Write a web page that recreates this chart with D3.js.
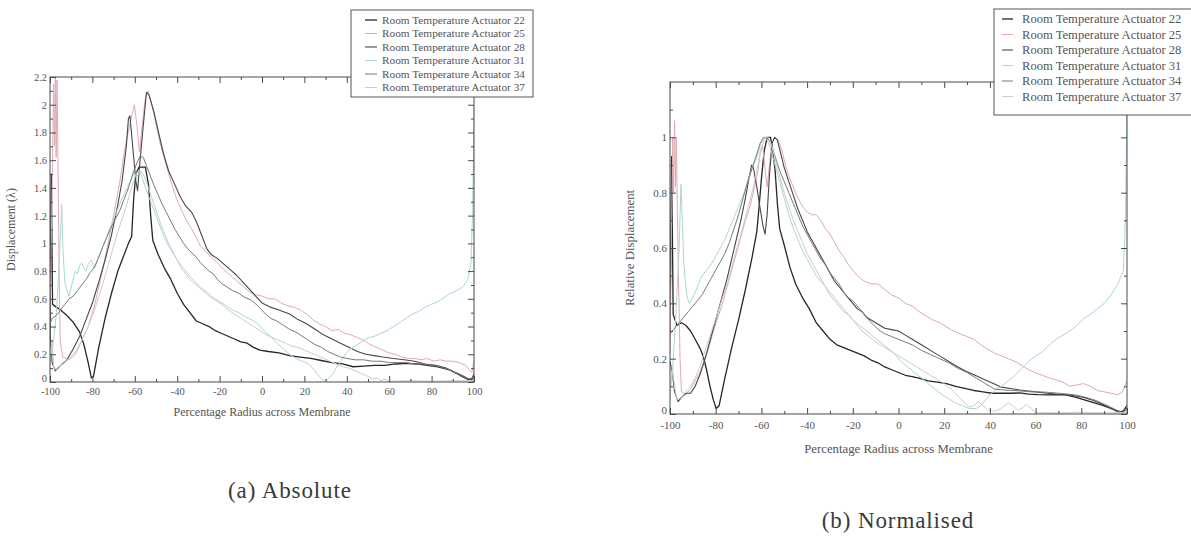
<!DOCTYPE html>
<html>
<head>
<meta charset="utf-8">
<script src="https://cdn.jsdelivr.net/npm/d3@7"></script>
<style>
  html, body { margin: 0; padding: 0; background: #fff; }
  svg { display: block; }
  text { font-family: "Liberation Serif", "Times New Roman", serif; }
</style>
</head>
<body>
<svg id="fig" width="1191" height="538"></svg>
<script>
// ---- shared labels and ticks ----
const seriesNames = [
  "Room Temperature Actuator 22",
  "Room Temperature Actuator 25",
  "Room Temperature Actuator 28",
  "Room Temperature Actuator 31",
  "Room Temperature Actuator 34",
  "Room Temperature Actuator 37"
];
const xMajorTicks = [-100, -80, -60, -40, -20, 0, 20, 40, 60, 80, 100];
const xMinorTicks = [-90, -70, -50, -30, -10, 10, 30, 50, 70, 90];
const absMajorTicks = [0, 0.2, 0.4, 0.6, 0.8, 1, 1.2, 1.4, 1.6, 1.8, 2, 2.2];
const absMinorTicks = [0.1, 0.3, 0.5, 0.7, 0.9, 1.1, 1.3, 1.5, 1.7, 1.9, 2.1];
const relMajorTicks = [0, 0.2, 0.4, 0.6, 0.8, 1];
const relMinorTicks = [0.1, 0.3, 0.5, 0.7, 0.9, 1.1];

// ---- absolute displacement, [percentage radius, displacement] ----
const absAct22 = [[-100,0.30],[-99.4,1.50],[-98.8,0.56],[-97,0.54],[-95,0.52],[-92,0.48],[-89,0.43],[-86,0.36],[-84,0.27],[-82,0.14],[-80.5,0.03],[-79.5,0.04],[-77,0.25],[-74,0.46],[-71,0.64],[-68,0.80],[-65,0.92],[-63,1.00],[-61.5,1.05],[-60.5,1.33],[-59.5,1.50],[-58,1.55],[-55,1.55],[-53.5,1.42],[-52.5,1.20],[-51.5,1.02],[-49,0.92],[-46,0.82],[-43,0.74],[-40,0.64],[-37,0.56],[-34,0.50],[-31,0.44],[-28,0.42],[-25,0.40],[-22,0.37],[-19,0.35],[-16,0.33],[-13,0.31],[-10,0.29],[-7,0.28],[-4,0.25],[-1,0.23],[3,0.22],[8,0.21],[13,0.19],[18,0.18],[23,0.17],[28,0.155],[33,0.14],[38,0.13],[43,0.11],[48,0.115],[53,0.12],[58,0.12],[63,0.13],[68,0.135],[73,0.13],[78,0.12],[83,0.11],[88,0.09],[92,0.06],[95,0.035],[97,0.02],[99,0.02],[100,0.05]];
const absAct25 = [[-100,0.50],[-98.8,1.55],[-98.3,2.15],[-97.9,1.70],[-97.5,2.20],[-97.1,1.62],[-96.7,2.18],[-96.3,1.70],[-95.8,0.90],[-95.2,0.30],[-94,0.18],[-91,0.16],[-88,0.20],[-85,0.30],[-82,0.40],[-79,0.55],[-76,0.75],[-73,0.97],[-70,1.20],[-67,1.45],[-64.5,1.70],[-62,1.88],[-60.2,2.00],[-59,1.85],[-57.8,1.66],[-56.5,1.85],[-55,2.05],[-53.8,2.10],[-52,2.00],[-50,1.86],[-48,1.72],[-45.5,1.58],[-43,1.45],[-40.5,1.33],[-38,1.24],[-35.5,1.16],[-33,1.10],[-31,1.04],[-29,0.98],[-27,0.95],[-24,0.90],[-21,0.86],[-18,0.81],[-15,0.77],[-12,0.73],[-9,0.69],[-6,0.65],[-3,0.63],[0,0.62],[3,0.60],[6,0.60],[9,0.57],[12,0.55],[15,0.54],[18,0.52],[21,0.49],[24,0.45],[27,0.42],[30,0.40],[33,0.37],[36,0.38],[39,0.35],[42,0.34],[45,0.32],[48,0.30],[51,0.27],[54,0.25],[57,0.23],[60,0.21],[63,0.20],[66,0.18],[69,0.17],[72,0.17],[75,0.16],[78,0.17],[81,0.15],[84,0.16],[87,0.15],[90,0.15],[93,0.14],[96,0.12],[98,0.09],[99,0.07],[100,0.15]];
const absAct28 = [[-100,0.35],[-99,0.14],[-97.5,0.08],[-95,0.12],[-92,0.16],[-89,0.24],[-86,0.33],[-83,0.45],[-80,0.57],[-77,0.72],[-74,0.88],[-71,1.06],[-68,1.28],[-66,1.45],[-64,1.70],[-63,1.90],[-62.3,1.92],[-61,1.70],[-59.5,1.45],[-58.7,1.38],[-57.5,1.60],[-56,1.85],[-54.5,2.09],[-53.3,2.07],[-51,1.95],[-48.5,1.78],[-46.5,1.65],[-44,1.52],[-41,1.42],[-38.7,1.34],[-36,1.27],[-33,1.22],[-30.8,1.15],[-28,1.04],[-26,0.96],[-24,0.92],[-21,0.89],[-18,0.85],[-15,0.81],[-12,0.77],[-9,0.72],[-6,0.67],[-3,0.62],[0,0.57],[4,0.54],[8,0.52],[13,0.49],[17,0.45],[21,0.42],[25,0.38],[29,0.34],[33,0.31],[37,0.28],[41,0.25],[45,0.22],[49,0.20],[53,0.19],[57,0.18],[62,0.17],[67,0.16],[72,0.15],[77,0.13],[82,0.12],[87,0.10],[91,0.07],[94,0.05],[97,0.025],[99,0.02],[100,0.06]];
const absAct31 = [[-100,0.25],[-99,0.20],[-97,0.50],[-95.5,0.90],[-94.5,1.28],[-94,1.00],[-93.5,0.85],[-93,0.72],[-92,0.66],[-91,0.62],[-90,0.68],[-89,0.75],[-88,0.80],[-87,0.78],[-86,0.84],[-85,0.86],[-84,0.82],[-83,0.80],[-82,0.85],[-80.5,0.88],[-79,0.82],[-77,0.90],[-74,1.02],[-71,1.14],[-68,1.25],[-65,1.36],[-62,1.45],[-60.5,1.50],[-59,1.48],[-57.5,1.52],[-56,1.45],[-54,1.36],[-52,1.28],[-50,1.20],[-48,1.12],[-46,1.04],[-44,0.98],[-42,0.93],[-40,0.88],[-38,0.84],[-36,0.80],[-34,0.76],[-32,0.73],[-30,0.70],[-28,0.67],[-26,0.65],[-24,0.62],[-22,0.60],[-20,0.58],[-17,0.55],[-14,0.52],[-11,0.50],[-8,0.47],[-5,0.45],[-2,0.42],[1,0.37],[4,0.33],[7,0.28],[10,0.24],[13,0.20],[16,0.17],[19,0.15],[22,0.13],[25,0.08],[27,0.04],[29,0.01],[31,0.02],[33,0.05],[35,0.10],[38,0.17],[41,0.23],[44,0.26],[47,0.29],[50,0.32],[53,0.33],[56,0.35],[59,0.37],[62,0.40],[65,0.43],[68,0.46],[71,0.49],[74,0.51],[77,0.54],[80,0.56],[83,0.58],[86,0.61],[89,0.64],[92,0.66],[95,0.69],[97,0.74],[98.5,0.85],[99.3,1.20],[99.8,1.70],[100,2.00]];
const absAct34 = [[-100,0.42],[-99,0.46],[-97,0.48],[-95,0.52],[-93,0.56],[-91,0.60],[-89,0.62],[-87,0.66],[-85,0.70],[-83,0.74],[-81,0.79],[-79,0.83],[-77,0.90],[-75,0.98],[-73,1.05],[-71,1.12],[-69,1.18],[-67,1.24],[-65,1.32],[-63,1.40],[-61,1.50],[-59,1.58],[-57.5,1.63],[-56,1.62],[-54.5,1.56],[-53,1.50],[-51,1.42],[-49,1.35],[-47,1.28],[-45,1.22],[-43,1.16],[-41,1.10],[-39,1.05],[-37,1.00],[-35,0.96],[-33,0.93],[-31,0.90],[-29,0.86],[-27,0.83],[-25,0.80],[-23,0.78],[-21,0.74],[-19,0.71],[-17,0.69],[-14,0.66],[-11,0.64],[-8,0.61],[-5,0.59],[-2,0.55],[1,0.50],[4,0.46],[7,0.44],[10,0.41],[13,0.38],[16,0.36],[19,0.33],[22,0.30],[25,0.27],[28,0.25],[31,0.22],[34,0.20],[37,0.18],[40,0.17],[44,0.16],[48,0.16],[52,0.15],[56,0.15],[60,0.14],[64,0.14],[68,0.14],[72,0.13],[76,0.13],[80,0.12],[84,0.11],[88,0.09],[92,0.06],[95,0.04],[98,0.02],[100,0.04]];
const absAct37 = [[-100,0.12],[-99,0.30],[-98.2,0.10],[-96.5,0.09],[-94,0.14],[-91,0.17],[-88,0.22],[-85,0.30],[-82,0.40],[-79,0.52],[-76,0.66],[-73,0.82],[-70,0.98],[-67,1.13],[-64,1.27],[-61.5,1.40],[-59.5,1.50],[-58,1.53],[-56,1.50],[-54,1.42],[-52,1.33],[-50,1.24],[-48,1.15],[-46,1.07],[-44,1.00],[-42,0.94],[-40,0.88],[-38,0.82],[-36,0.78],[-34,0.74],[-31,0.70],[-28,0.66],[-25,0.62],[-22,0.59],[-19,0.56],[-16,0.52],[-13,0.49],[-10,0.46],[-7,0.43],[-4,0.40],[-1,0.37],[2,0.34],[5,0.32],[8,0.30],[11,0.28],[14,0.26],[17,0.25],[20,0.23],[23,0.21],[26,0.19],[29,0.17],[32,0.15],[35,0.13],[38,0.11],[41,0.10],[44,0.08],[47,0.06],[50,0.04],[52,0.02],[54,0.03],[56,0.01],[58,0.02],[60,0.005],[70,0.01],[80,0.005],[90,0.01],[100,0.01]];

// ---- normalised displacement, [percentage radius, relative displacement] ----
const relAct22 = [[-100,0.30],[-99.3,0.93],[-98.6,0.36],[-97,0.32],[-95,0.33],[-93,0.32],[-91,0.30],[-89,0.27],[-87,0.24],[-85.5,0.21],[-84,0.16],[-82.5,0.10],[-81,0.05],[-79.8,0.02],[-78.5,0.03],[-76,0.13],[-73,0.24],[-70,0.34],[-67,0.45],[-64,0.57],[-62,0.66],[-61,0.75],[-60,0.85],[-58.8,0.95],[-57.5,1.00],[-56,1.00],[-55,0.95],[-54,0.88],[-53,0.76],[-52,0.67],[-50,0.61],[-47.5,0.53],[-45,0.47],[-42,0.42],[-39,0.38],[-36,0.33],[-33,0.30],[-30,0.27],[-27,0.25],[-24,0.24],[-21,0.23],[-18,0.22],[-15,0.21],[-12,0.195],[-9,0.185],[-6,0.17],[-3,0.16],[0,0.15],[3,0.14],[6,0.135],[9,0.13],[13,0.12],[17,0.115],[21,0.11],[25,0.10],[29,0.093],[33,0.085],[37,0.08],[41,0.075],[45,0.075],[49,0.075],[53,0.076],[57,0.072],[61,0.07],[65,0.069],[69,0.07],[73,0.069],[77,0.062],[81,0.052],[85,0.042],[89,0.032],[93,0.02],[96,0.01],[98,0.008],[100,0.03]];
const relAct25 = [[-100,0.22],[-99.2,0.75],[-98.8,1.00],[-98.4,0.80],[-98,1.06],[-97.6,0.82],[-97.2,1.00],[-96.8,0.75],[-96.3,0.50],[-95.6,0.20],[-95,0.08],[-93,0.07],[-91,0.09],[-89,0.12],[-87,0.15],[-85,0.19],[-83,0.24],[-81,0.30],[-79,0.35],[-77,0.40],[-75,0.46],[-73,0.52],[-71,0.58],[-69,0.64],[-67,0.70],[-65,0.75],[-63,0.82],[-61.5,0.88],[-60.5,0.95],[-59.5,0.97],[-58.3,0.88],[-57.5,0.82],[-56.5,0.90],[-55.3,0.98],[-54,1.00],[-52.5,0.99],[-51,0.95],[-49.5,0.90],[-48,0.86],[-46,0.82],[-44,0.78],[-42,0.75],[-40,0.73],[-38,0.72],[-36,0.72],[-34,0.70],[-32,0.67],[-30,0.65],[-28,0.62],[-26,0.59],[-24,0.57],[-22,0.54],[-20,0.52],[-18,0.50],[-15,0.48],[-12,0.47],[-9,0.47],[-6,0.45],[-3,0.43],[0,0.42],[3,0.40],[6,0.39],[9,0.37],[12,0.355],[15,0.34],[18,0.33],[21,0.315],[24,0.30],[27,0.29],[30,0.28],[33,0.27],[36,0.25],[39,0.235],[42,0.22],[45,0.21],[48,0.20],[51,0.19],[54,0.175],[57,0.16],[60,0.148],[63,0.14],[66,0.13],[69,0.123],[72,0.115],[75,0.10],[78,0.105],[81,0.11],[84,0.10],[87,0.085],[90,0.08],[93,0.075],[96,0.07],[98,0.08],[100,0.12]];
const relAct28 = [[-100,0.19],[-99,0.15],[-98,0.08],[-96.5,0.045],[-95,0.06],[-93,0.075],[-91,0.075],[-89,0.10],[-87,0.14],[-85,0.19],[-83,0.25],[-81,0.31],[-79,0.37],[-77,0.43],[-75,0.49],[-73,0.56],[-71,0.63],[-69,0.70],[-67,0.78],[-65.5,0.85],[-64.3,0.90],[-63.5,0.89],[-62,0.82],[-60.5,0.74],[-59.3,0.68],[-58.4,0.65],[-57.5,0.72],[-56.5,0.86],[-55.3,0.98],[-54.2,1.00],[-53,0.99],[-51.5,0.94],[-50,0.89],[-48,0.84],[-46,0.79],[-44,0.74],[-42,0.70],[-40,0.66],[-38,0.63],[-36,0.60],[-34,0.57],[-32,0.54],[-30,0.51],[-28,0.48],[-26,0.46],[-24,0.44],[-22,0.42],[-20,0.40],[-18,0.38],[-16,0.37],[-14,0.35],[-12,0.34],[-10,0.33],[-8,0.32],[-6,0.31],[-3,0.305],[0,0.30],[3,0.285],[6,0.27],[10,0.25],[14,0.23],[18,0.21],[22,0.19],[26,0.17],[30,0.153],[34,0.138],[38,0.123],[42,0.108],[45,0.097],[49,0.092],[53,0.087],[57,0.083],[61,0.079],[65,0.075],[69,0.072],[73,0.07],[77,0.066],[81,0.06],[85,0.05],[89,0.036],[93,0.02],[96,0.008],[98,0.005],[100,0.02]];
const relAct31 = [[-100,0.10],[-99,0.14],[-97.5,0.35],[-96,0.60],[-95.2,0.83],[-94.6,0.70],[-94,0.55],[-93.3,0.48],[-92.5,0.42],[-91.5,0.40],[-90,0.42],[-88,0.46],[-86,0.50],[-84,0.52],[-82,0.54],[-80,0.57],[-78,0.60],[-76,0.63],[-74,0.67],[-72,0.71],[-70,0.75],[-68,0.79],[-66,0.84],[-64,0.89],[-62,0.93],[-60.5,0.97],[-59,1.00],[-57.5,0.99],[-56,0.96],[-54,0.90],[-52,0.84],[-50,0.78],[-48,0.72],[-46,0.67],[-44,0.63],[-42,0.59],[-40,0.56],[-38,0.53],[-36,0.50],[-34,0.48],[-32,0.46],[-30,0.43],[-28,0.41],[-26,0.39],[-24,0.37],[-22,0.36],[-20,0.34],[-17,0.32],[-14,0.30],[-11,0.28],[-8,0.26],[-5,0.24],[-2,0.22],[1,0.19],[4,0.17],[7,0.15],[10,0.13],[13,0.11],[16,0.09],[19,0.07],[22,0.055],[25,0.04],[28,0.03],[31,0.02],[34,0.02],[36,0.03],[39,0.06],[42,0.085],[45,0.10],[48,0.12],[51,0.14],[54,0.165],[57,0.19],[60,0.21],[63,0.225],[66,0.25],[69,0.27],[72,0.285],[75,0.30],[78,0.32],[81,0.345],[84,0.36],[87,0.38],[90,0.40],[93,0.43],[96,0.47],[98.4,0.52],[99.3,0.70],[99.8,1.00],[100,1.30]];
const relAct34 = [[-100,0.29],[-98,0.31],[-96,0.33],[-94,0.35],[-92,0.37],[-90,0.39],[-88,0.41],[-86,0.43],[-84,0.46],[-82,0.49],[-80,0.52],[-78,0.55],[-76,0.58],[-74,0.62],[-72,0.67],[-70,0.72],[-68,0.78],[-66,0.84],[-64,0.89],[-62,0.94],[-60.5,0.98],[-59,1.00],[-57.5,1.00],[-56,0.98],[-54,0.93],[-52,0.88],[-50,0.84],[-48,0.80],[-46,0.76],[-44,0.72],[-42,0.68],[-40,0.65],[-38,0.62],[-36,0.59],[-34,0.56],[-32,0.54],[-30,0.51],[-28,0.49],[-26,0.47],[-24,0.44],[-22,0.42],[-20,0.41],[-18,0.39],[-16,0.37],[-14,0.35],[-12,0.33],[-10,0.315],[-8,0.30],[-6,0.29],[-3,0.28],[0,0.27],[3,0.26],[6,0.25],[10,0.23],[14,0.215],[18,0.20],[22,0.185],[26,0.165],[30,0.15],[34,0.13],[38,0.11],[42,0.09],[46,0.087],[50,0.085],[54,0.083],[58,0.08],[62,0.08],[66,0.078],[70,0.075],[74,0.072],[78,0.068],[82,0.06],[86,0.05],[90,0.036],[94,0.02],[97,0.008],[100,0.02]];
const relAct37 = [[-100,0.05],[-99,0.17],[-98,0.10],[-97,0.05],[-95,0.06],[-93,0.08],[-91,0.10],[-89,0.13],[-87,0.17],[-85,0.22],[-83,0.27],[-81,0.32],[-79,0.37],[-77,0.42],[-75,0.47],[-73,0.53],[-71,0.59],[-69,0.65],[-67,0.71],[-65,0.77],[-63,0.84],[-61.5,0.90],[-60,0.96],[-58.5,1.00],[-57,1.00],[-55.5,0.97],[-54,0.92],[-52,0.86],[-50,0.80],[-48,0.75],[-46,0.70],[-44,0.66],[-42,0.62],[-40,0.58],[-38,0.55],[-36,0.52],[-34,0.49],[-32,0.46],[-30,0.44],[-28,0.42],[-26,0.40],[-24,0.38],[-22,0.36],[-20,0.34],[-18,0.32],[-16,0.30],[-13,0.28],[-10,0.26],[-7,0.245],[-4,0.23],[-1,0.215],[2,0.20],[5,0.185],[8,0.17],[11,0.155],[14,0.14],[17,0.125],[20,0.11],[23,0.09],[26,0.065],[29,0.04],[31,0.025],[33,0.03],[35,0.045],[37,0.03],[39,0.015],[42,0.01],[45,0.02],[48,0.04],[50,0.03],[52,0.015],[54,0.02],[56,0.035],[58,0.02],[60,0.005],[70,0.004],[80,0.006],[90,0.004],[100,0.005]];

// ---- styling per series (same order as seriesNames) ----
const lineColors = ["#262626", "#dfaab3", "#474747", "#abd8d0", "#7a7a7a", "#cccccc"];
const lineWidths = [1.3, 1.0, 1.1, 1.0, 1.0, 1.0];

const svg = d3.select("#fig");

function drawPanel(cfg) {
  const x = d3.scaleLinear().domain([-100, 100]).range([cfg.left, cfg.right]);
  const y = d3.scaleLinear().domain(cfg.yDomain).range([cfg.bottom, cfg.top]);
  const g = svg.append("g");
  const fmt = d => String(+d.toFixed(1));
  const axisColor = "#4a4a4a";

  const clipId = "clip-" + cfg.id;
  svg.append("clipPath").attr("id", clipId).append("rect")
    .attr("x", cfg.left).attr("y", cfg.top)
    .attr("width", cfg.right - cfg.left).attr("height", cfg.bottom - cfg.top);

  // curves
  const line = d3.line().x(d => x(d[0])).y(d => y(d[1]));
  const lines = g.append("g").attr("clip-path", `url(#${clipId})`);
  cfg.series.forEach((s, i) => {
    lines.append("path").datum(s)
      .attr("fill", "none")
      .attr("stroke", lineColors[i])
      .attr("stroke-width", lineWidths[i])
      .attr("stroke-linejoin", "round")
      .attr("d", line);
  });

  // frame
  g.append("rect")
    .attr("x", cfg.left).attr("y", cfg.top)
    .attr("width", cfg.right - cfg.left).attr("height", cfg.bottom - cfg.top)
    .attr("fill", "none").attr("stroke", axisColor).attr("stroke-width", 1);

  const styleAxis = sel => {
    sel.select(".domain").remove();
    sel.selectAll("line").attr("stroke", axisColor);
    sel.selectAll("text").attr("fill", "#555")
      .style("font-family", '"Liberation Serif", serif')
      .style("font-size", cfg.tickFont + "px");
  };

  // inward ticks on all four sides
  g.append("g").attr("transform", `translate(0,${cfg.bottom})`)
    .call(d3.axisBottom(x).tickValues(xMajorTicks).tickSize(-cfg.major).tickPadding(cfg.xPad).tickFormat(d => String(d)))
    .call(styleAxis);
  g.append("g").attr("transform", `translate(0,${cfg.bottom})`)
    .call(d3.axisBottom(x).tickValues(xMinorTicks).tickSize(-cfg.minor).tickFormat(""))
    .call(styleAxis);
  g.append("g").attr("transform", `translate(0,${cfg.top})`)
    .call(d3.axisTop(x).tickValues(xMajorTicks).tickSize(-cfg.major).tickFormat(""))
    .call(styleAxis);
  g.append("g").attr("transform", `translate(0,${cfg.top})`)
    .call(d3.axisTop(x).tickValues(xMinorTicks).tickSize(-cfg.minor).tickFormat(""))
    .call(styleAxis);
  const yAxis = g.append("g").attr("transform", `translate(${cfg.left},0)`)
    .call(d3.axisLeft(y).tickValues(cfg.yMajor).tickSize(-cfg.major).tickPadding(3).tickFormat(fmt))
    .call(styleAxis);
  // lift the zero label a little so it clears the first x label
  yAxis.selectAll(".tick text").filter(d => d === 0).attr("dy", "-0.05em");
  g.append("g").attr("transform", `translate(${cfg.left},0)`)
    .call(d3.axisLeft(y).tickValues(cfg.yMinor).tickSize(-cfg.minor).tickFormat(""))
    .call(styleAxis);
  g.append("g").attr("transform", `translate(${cfg.right},0)`)
    .call(d3.axisRight(y).tickValues(cfg.yMajor).tickSize(-cfg.major).tickFormat(""))
    .call(styleAxis);
  g.append("g").attr("transform", `translate(${cfg.right},0)`)
    .call(d3.axisRight(y).tickValues(cfg.yMinor).tickSize(-cfg.minor).tickFormat(""))
    .call(styleAxis);

  // axis titles
  g.append("text")
    .attr("x", (cfg.left + cfg.right) / 2).attr("y", cfg.xTitleY)
    .attr("text-anchor", "middle").attr("fill", "#555")
    .style("font-size", cfg.titleFont + "px")
    .text("Percentage Radius across Membrane");
  g.append("text")
    .attr("transform", `translate(${cfg.yTitleX},${(cfg.top + cfg.bottom) / 2}) rotate(-90)`)
    .attr("text-anchor", "middle").attr("fill", "#555")
    .style("font-size", cfg.titleFont + "px")
    .text(cfg.yTitle);

  // legend (white box drawn over the frame)
  const lg = g.append("g");
  lg.append("rect")
    .attr("x", cfg.legend.x).attr("y", cfg.legend.y)
    .attr("width", cfg.legend.w).attr("height", cfg.legend.h)
    .attr("fill", "#fff").attr("stroke", "#555").attr("stroke-width", 1);
  seriesNames.forEach((name, i) => {
    const cy = cfg.legend.y + cfg.legend.first + i * cfg.legend.step;
    lg.append("line")
      .attr("x1", cfg.legend.x + cfg.legend.lx0).attr("x2", cfg.legend.x + cfg.legend.lx1)
      .attr("y1", cy).attr("y2", cy)
      .attr("stroke", lineColors[i]).attr("stroke-width", lineWidths[i]);
    lg.append("text")
      .attr("x", cfg.legend.x + cfg.legend.tx).attr("y", cy)
      .attr("dy", "0.35em").attr("fill", "#555")
      .style("font-size", cfg.legend.font + "px")
      .text(name);
  });

  // sub-figure caption
  svg.append("text")
    .attr("x", cfg.captionX).attr("y", cfg.captionY)
    .attr("text-anchor", "middle").attr("fill", "#3a3a3a")
    .style("font-family", '"Liberation Serif", serif')
    .style("font-size", "23px")
    .style("letter-spacing", "0.9px")
    .text(cfg.caption);
}

drawPanel({
  id: "abs",
  left: 50, right: 474, top: 77, bottom: 382,
  yDomain: [0, 2.2], yMajor: absMajorTicks, yMinor: absMinorTicks,
  series: [absAct22, absAct25, absAct28, absAct31, absAct34, absAct37],
  major: 6, minor: 3, tickFont: 10.5, titleFont: 12, xPad: 6,
  xTitleY: 416, yTitleX: 15, yTitle: "Displacement (λ)",
  legend: { x: 351, y: 10, w: 182, h: 87, first: 10, step: 13.5, lx0: 14, lx1: 26, tx: 31, font: 11.3 },
  caption: "(a) Absolute", captionX: 290, captionY: 498
});

drawPanel({
  id: "rel",
  left: 670, right: 1127, top: 82, bottom: 414,
  yDomain: [0, 1.2], yMajor: relMajorTicks, yMinor: relMinorTicks,
  series: [relAct22, relAct25, relAct28, relAct31, relAct34, relAct37],
  major: 6, minor: 3, tickFont: 11, titleFont: 12.8, xPad: 7,
  xTitleY: 453, yTitleX: 634, yTitle: "Relative Displacement",
  legend: { x: 994, y: 9, w: 210, h: 106, first: 10, step: 15.5, lx0: 8, lx1: 19, tx: 28, font: 12.6 },
  caption: "(b) Normalised", captionX: 898, captionY: 528
});
</script>
</body>
</html>
